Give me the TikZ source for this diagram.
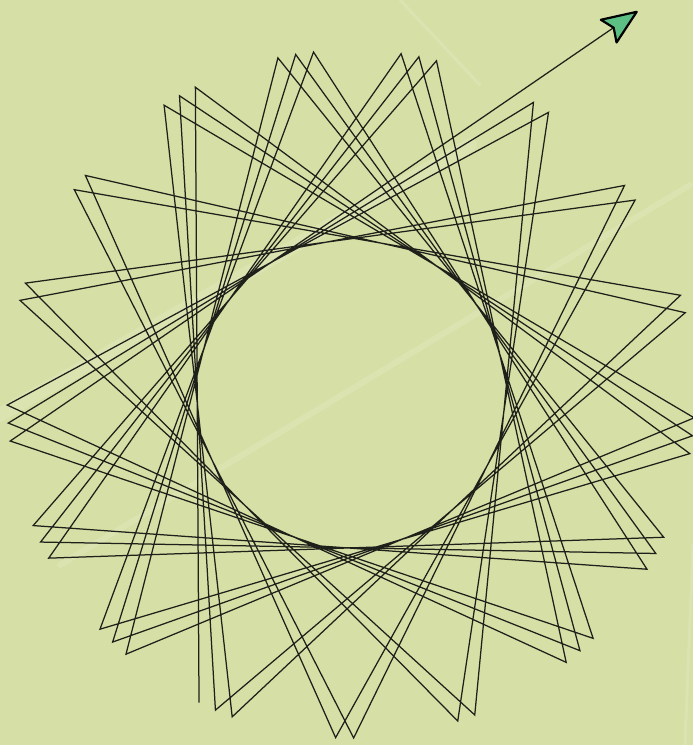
\documentclass[tikz,border=0pt]{standalone}
\usetikzlibrary{calc}
\definecolor{bgcol}{RGB}{214,223,166}
\definecolor{turtlegreen}{RGB}{92,192,132}
\definecolor{inkcol}{RGB}{30,32,26}
\tikzset{
  starline/.style={draw=inkcol, line width=1.25pt, line join=miter},
  turtleshape/.style={fill=turtlegreen, draw=black, line width=2.2pt, line join=round},
  streak/.style={draw=white, opacity=0.13, line cap=round}
}
\begin{document}
\begin{tikzpicture}[x=1pt,y=1pt]
\fill[bgcol] (0,0) rectangle (693,745);
\useasboundingbox (0,0) rectangle (693,745);
% faint background streaks
\draw[streak, line width=14pt] (0,330) -- (470,600);
\draw[streak, line width=6pt] (60,180) -- (690,560);
\draw[streak, line width=3pt] (400,745) -- (480,660);
\draw[streak, line width=3pt] (685,0) -- (693,200);
% vertices of the turtle path
\foreach \k in {-1,...,43} {
  \pgfmathsetmacro\ang{116.9-126.882*\k}
  \coordinate (p\k) at ({351+344*cos(\ang)},{351+344*sin(\ang)});
}
\draw[starline] (p-1) \foreach \k in {0,...,42} { -- (p\k) } -- ($(p42)!1.234!(p43)$) coordinate (tip);
% turtle
\begin{scope}[shift={(tip)}, rotate=34.6]
  \filldraw[turtleshape] (0,0) -- (-34,13.8) -- (-28,0) -- (-34,-13.8) -- cycle;
\end{scope}
\end{tikzpicture}
\end{document}
